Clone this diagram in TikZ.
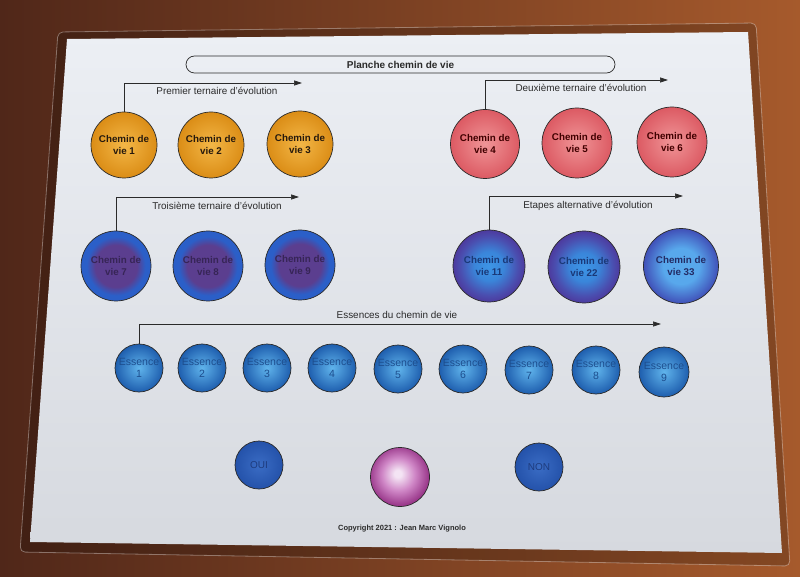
\documentclass[tikz,border=0pt]{standalone}
\usepackage{fontspec}
\setmainfont{Liberation Sans}
\usetikzlibrary{arrows.meta,shadings}
\definecolor{woodD}{HTML}{502719}
\definecolor{woodL}{HTML}{A65A2C}
\definecolor{sheetT}{HTML}{ECEFF4}
\definecolor{sheetB}{HTML}{D6D9DF}
\definecolor{ink}{HTML}{2A2A2A}
\definecolor{orI}{HTML}{F3B747}
\definecolor{orO}{HTML}{DB8D16}
\definecolor{rdI}{HTML}{F09597}
\definecolor{rdO}{HTML}{DC5A63}
\definecolor{pu}{HTML}{5B3E8F}
\definecolor{bl}{HTML}{2B5FC8}
\definecolor{bA}{HTML}{3D95E6}
\definecolor{bB}{HTML}{3A86DA}
\definecolor{bC}{HTML}{4A4FB0}
\definecolor{bD}{HTML}{4D3A9E}
\definecolor{tA}{HTML}{58A8EC}
\definecolor{tB}{HTML}{4050B8}
\definecolor{esI}{HTML}{60B4EC}
\definecolor{esO}{HTML}{1E5EAE}
\definecolor{esT}{HTML}{1D4E8E}
\definecolor{onI}{HTML}{3A6CC4}
\definecolor{onO}{HTML}{2452AA}
\definecolor{onT}{HTML}{1E3C7E}
\definecolor{pkI}{HTML}{F4E4F4}
\definecolor{pkM}{HTML}{CF86C6}
\definecolor{pkO}{HTML}{9B3A8C}
\pgfdeclareradialshading{purplering}{\pgfpoint{0bp}{0bp}}{color(0bp)=(pu); color(15bp)=(pu); color(21bp)=(bl); color(25bp)=(bl); color(50bp)=(bl)}
\pgfdeclareradialshading{bluecore}{\pgfpoint{0bp}{0bp}}{color(0bp)=(bA); color(10bp)=(bB); color(20bp)=(bC); color(25bp)=(bD); color(50bp)=(bD)}
\pgfdeclareradialshading{bluelight}{\pgfpoint{0bp}{0bp}}{color(0bp)=(tA); color(12bp)=(tA); color(25bp)=(tB); color(50bp)=(tB)}
\pgfdeclareradialshading{pinkball}{\pgfpoint{-2bp}{3bp}}{color(0bp)=(pkI); color(3bp)=(pkI); color(14bp)=(pkM); color(25bp)=(pkO); color(50bp)=(pkO)}
\begin{document}
\begin{tikzpicture}[x=1pt,y=-1pt,
  disc/.style={circle, draw=ink, line width=0.7pt, inner sep=0pt, align=center},
  cvtext/.style={font=\fontsize{9.8}{11.5}\selectfont\bfseries},
  orangec/.style={disc, cvtext, minimum size=66pt, inner color=orI, outer color=orO, text=black!80!brown},
  redc/.style={disc, cvtext, minimum size=69pt, inner color=rdI, outer color=rdO, text=black!75!red},
  purc/.style={disc, cvtext, minimum size=70pt, shading=purplering, text=pu!60!black},
  bluec/.style={disc, cvtext, minimum size=72pt, shading=bluecore, text=bl!60!black},
  essc/.style={disc, minimum size=48pt, inner color=esI, outer color=esO, text=esT, font=\fontsize{10.5}{12.5}\selectfont},
  yesno/.style={disc, minimum size=48pt, inner color=onI, outer color=onO, text=onT, font=\fontsize{10}{12}\selectfont},
  lab/.style={font=\fontsize{9.9}{11}\selectfont, text=ink, inner sep=0pt},
  conn/.style={draw=ink, line width=0.7pt, -{Triangle[length=8pt,width=5pt]}}
]
\useasboundingbox (0,0) rectangle (800,577);
% table and laminated sheet
\shade[left color=woodD, right color=woodL] (0,0) rectangle (800,577);
\fill[black, opacity=0.2, rounded corners=5pt] (58,32) -- (756,23) -- (790,566) -- (20,552) -- cycle;
\draw[white, opacity=0.35, line width=0.8pt, rounded corners=5pt] (58,32) -- (756,23) -- (790,566) -- (20,552) -- cycle;
\shade[top color=sheetT, bottom color=sheetB] (67,39) -- (748,32) -- (782,553) -- (30,542) -- cycle;

% title
\node[draw=ink, line width=0.7pt, rounded corners=8.5pt, minimum width=429pt, minimum height=17pt, inner sep=0pt,
      font=\fontsize{10}{12}\selectfont\bfseries, text=ink] (title) at (400.5,64.5) {Planche chemin de vie};

% row 1
\node[orangec] (cv1) at (124,145) {Chemin de\\vie 1};
\node[orangec] (cv2) at (211,145) {Chemin de\\vie 2};
\node[orangec] (cv3) at (300,144) {Chemin de\\vie 3};
\node[redc] (cv4) at (485,144) {Chemin de\\vie 4};
\node[redc, minimum size=70pt] (cv5) at (577,143) {Chemin de\\vie 5};
\node[redc, minimum size=70pt] (cv6) at (672,142) {Chemin de\\vie 6};

% row 2
\node[purc] (cv7) at (116,266) {Chemin de\\vie 7};
\node[purc] (cv8) at (208,266) {Chemin de\\vie 8};
\node[purc] (cv9) at (300,265) {Chemin de\\vie 9};
\node[bluec] (cv11) at (489,266) {Chemin de\\vie 11};
\node[bluec] (cv22) at (584,267) {Chemin de\\vie 22};
\node[bluec, minimum size=75pt, shading=bluelight, text=tB!55!black] (cv33) at (681,266) {Chemin de\\vie 33};

% essences
\node[essc] (e1) at (139,368) {Essence\\1};
\node[essc] (e2) at (202,368) {Essence\\2};
\node[essc] (e3) at (267,368) {Essence\\3};
\node[essc] (e4) at (332,368) {Essence\\4};
\node[essc] (e5) at (398,369) {Essence\\5};
\node[essc] (e6) at (463,369) {Essence\\6};
\node[essc] (e7) at (529,370) {Essence\\7};
\node[essc] (e8) at (596,370) {Essence\\8};
\node[essc, minimum size=50pt] (e9) at (664,372) {Essence\\9};

% bottom row
\node[yesno] (oui) at (259,465) {OUI};
\node[disc, minimum size=59pt, shading=pinkball] (pk) at (400,477) {};
\node[yesno] (non) at (539,467) {NON};

% connectors
\coordinate (t1) at (302,83);
\coordinate (t2) at (668,80);
\coordinate (t3) at (299,197);
\coordinate (t4) at (683,196);
\coordinate (t5) at (661,324);
\draw[conn] (cv1.north) |- (t1);
\draw[conn] (cv4.north) |- (t2);
\draw[conn] (cv7.north) |- (t3);
\draw[conn] (cv11.north) |- (t4);
\draw[conn] (e1.north) |- (t5);

% labels
\node[lab] (l1) at (217,91) {Premier ternaire d'évolution};
\node[lab] (l2) at (581,88) {Deuxième ternaire d'évolution};
\node[lab] (l3) at (217,206) {Troisième ternaire d'évolution};
\node[lab] (l4) at (588,206) {Etapes alternative d'évolution};
\node[lab] (l5) at (397,315) {Essences du chemin de vie};

% copyright
\node[font=\fontsize{7.5}{9}\selectfont\bfseries, text=ink, inner sep=0pt] (copy) at (402,529) {Copyright 2021 : Jean Marc Vignolo};
\end{tikzpicture}
\end{document}
